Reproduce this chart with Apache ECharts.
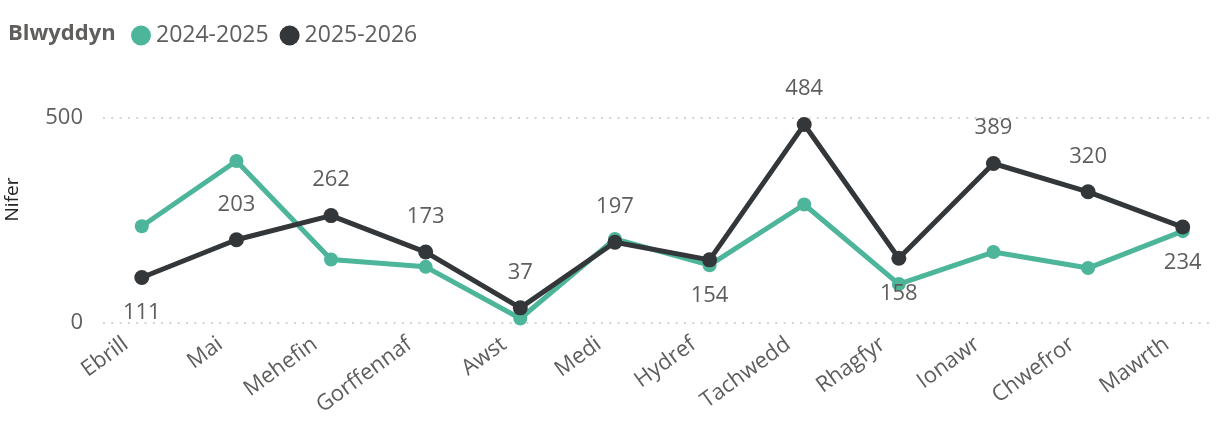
<!DOCTYPE html>
<html>
<head>
<meta charset="utf-8">
<script src="https://cdn.jsdelivr.net/npm/echarts@6/dist/echarts.min.js"></script>
<style>
  html, body { margin: 0; padding: 0; background: #fff; }
  #chart { width: 1221px; height: 442px; }
</style>
</head>
<body>
<div id="chart"></div>
<script>
// data
const months = ['Ebrill', 'Mai', 'Mehefin', 'Gorffennaf', 'Awst', 'Medi', 'Hydref', 'Tachwedd', 'Rhagfyr', 'Ionawr', 'Chwefror', 'Mawrth'];
const series2425 = [236, 395, 155, 137, 11, 205, 141, 289, 95, 173, 134, 224];
const series2526 = [111, 203, 262, 173, 37, 197, 154, 484, 158, 389, 320, 234];
const yTicks = [0, 500];

// where each label of 2025-2026 sits (style only)
const labelSide = ['bottom', 'top', 'top', 'top', 'top', 'top', 'bottom', 'top', 'bottom', 'top', 'top', 'bottom'];

const font = '"Segoe UI", "Open Sans", "Noto Sans", sans-serif';
const grey = '#605E5C';

const chart = echarts.init(document.getElementById('chart'), null, { renderer: 'canvas' });

const option = {
  animation: false,
  textStyle: { fontFamily: font },
  title: {
    text: 'Blwyddyn',
    left: 3,
    top: 18,
    textStyle: { fontSize: 22, fontWeight: 'bold', color: grey, fontFamily: font }
  },
  legend: {
    left: 126,
    top: 19,
    icon: 'circle',
    itemWidth: 20,
    itemHeight: 20,
    itemGap: 11,
    textStyle: { fontSize: 23, color: grey, fontFamily: font },
    data: ['2024-2025', '2025-2026']
  },
  grid: { left: 103, right: 8, top: 118, bottom: 119, containLabel: false, outerBoundsMode: 'none' },
  xAxis: {
    type: 'value',
    min: -0.41,
    max: 11.32,
    axisLine: { show: false },
    axisTick: { show: false },
    splitLine: { show: false },
    axisLabel: {
      // labels sit a little left of their point, as in the source
      customValues: months.map((m, i) => i - 0.17),
      formatter: v => months[Math.round(v)],
      rotate: 36,
      margin: 19,
      fontSize: 22,
      color: grey,
      fontFamily: font
    }
  },
  yAxis: {
    type: 'value',
    min: yTicks[0],
    max: yTicks[yTicks.length - 1],
    interval: 500,
    name: 'Nifer',
    nameLocation: 'middle',
    nameGap: 81,
    nameTextStyle: { fontSize: 19, color: '#252423', fontFamily: font, padding: [0, 0, 0, 42] },
    axisLine: { show: false },
    axisTick: { show: false },
    axisLabel: { fontSize: 22, color: grey, margin: 20, fontFamily: font },
    splitLine: { lineStyle: { color: '#C8C6C4', width: 1.5, type: [2, 6.3] } }
  },
  series: [
    {
      name: '2024-2025',
      type: 'line',
      data: series2425.map((v, i) => [i, v]),
      symbol: 'circle',
      symbolSize: 14,
      color: '#4CB59A',
      lineStyle: { width: 5 },
      label: { show: false }
    },
    {
      name: '2025-2026',
      type: 'line',
      data: series2526.map((v, i) => ({
        value: [i, v],
        label: { position: labelSide[i] }
      })),
      symbol: 'circle',
      symbolSize: 15,
      color: '#333739',
      lineStyle: { width: 5 },
      label: {
        show: true,
        distance: 17,
        fontSize: 22,
        color: grey,
        fontFamily: font,
        formatter: p => p.value[1]
      }
    }
  ]
};

chart.setOption(option);
</script>
</body>
</html>
